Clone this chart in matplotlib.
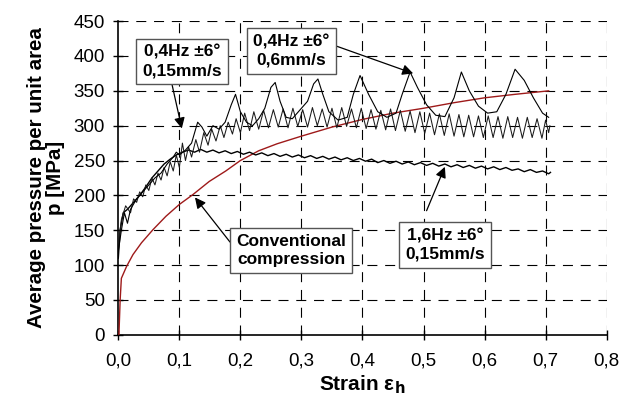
import matplotlib
matplotlib.use("Agg")
import matplotlib.pyplot as plt

plt.rcParams['font.family'] = ['Liberation Sans', 'DejaVu Sans']

# ---- data (strain, pressure MPa)

# 0,4Hz +-6deg 0,15mm/s
osc_slow_x = [0.0, 0.005, 0.012, 0.02, 0.025, 0.03, 0.035, 0.04, 0.045, 0.05, 0.055, 0.06, 0.065, 0.07,
              0.075, 0.08, 0.085, 0.09, 0.095, 0.1, 0.105, 0.11, 0.115, 0.12, 0.127, 0.133, 0.14, 0.147,
              0.153, 0.16, 0.167, 0.173, 0.18, 0.187, 0.193, 0.2, 0.207, 0.215, 0.222, 0.23, 0.238, 0.246,
              0.254, 0.262, 0.27, 0.278, 0.286, 0.294, 0.302, 0.31, 0.318, 0.326, 0.334, 0.342, 0.35,
              0.358, 0.366, 0.374, 0.382, 0.39, 0.398, 0.406, 0.414, 0.422, 0.43, 0.438, 0.446, 0.454,
              0.462, 0.47, 0.478, 0.486, 0.494, 0.502, 0.51, 0.518, 0.526, 0.534, 0.542, 0.55, 0.558,
              0.566, 0.574, 0.582, 0.59, 0.598, 0.606, 0.614, 0.622, 0.63, 0.638, 0.646, 0.654, 0.662,
              0.67, 0.678, 0.686, 0.694, 0.70, 0.705, 0.707]
osc_slow_p = [130, 165, 185, 175, 195, 190, 205, 198, 215, 207, 225, 215, 232, 222,
              240, 228, 248, 235, 258, 240, 275, 250, 270, 255, 280, 262, 290, 272,
              295, 278, 300, 283, 305, 288, 310, 290, 318, 293, 320, 295, 322, 297,
              323, 298, 324, 297, 325, 299, 323, 298, 326, 300, 324, 298, 325,
              297, 326, 299, 324, 297, 325, 296, 323, 295, 322, 294, 324, 293,
              322, 292, 321, 290, 320, 289, 318, 287, 317, 286, 317, 285, 316,
              284, 315, 284, 314, 283, 314, 283, 313, 282, 313, 283, 312, 282,
              312, 283, 310, 282, 308, 290, 300]

# 0,4Hz +-6deg 0,6mm/s
osc_fast_x = [0.0, 0.005, 0.01, 0.015, 0.02, 0.03, 0.04, 0.05, 0.06, 0.07, 0.08, 0.09, 0.095, 0.1,
              0.11, 0.12, 0.13, 0.137, 0.145, 0.155, 0.165, 0.175, 0.185, 0.192, 0.2, 0.21, 0.22,
              0.23, 0.24, 0.25, 0.257, 0.265, 0.275, 0.285, 0.295, 0.31, 0.32, 0.327, 0.335, 0.345,
              0.36, 0.375, 0.385, 0.396, 0.41, 0.425, 0.44, 0.455, 0.465, 0.478, 0.49, 0.505, 0.52,
              0.535, 0.55, 0.562, 0.575, 0.59, 0.605, 0.62, 0.635, 0.65, 0.665, 0.68, 0.695, 0.705]
osc_fast_p = [120, 150, 175, 160, 180, 195, 205, 215, 225, 232, 245, 255, 262, 258,
              265, 275, 305, 298, 285, 300, 295, 305, 330, 345, 320, 305, 300,
              310, 325, 355, 362, 335, 312, 310, 320, 335, 360, 367, 345, 320,
              308, 312, 345, 372, 345, 320, 312, 318, 345, 377, 355, 330, 315,
              313, 340, 377, 350, 328, 318, 320, 345, 381, 365, 340, 318, 312]

# 1,6Hz +-6deg 0,15mm/s
hf_x = [0.0, 0.003, 0.008, 0.015, 0.025, 0.035, 0.045, 0.055, 0.065, 0.075, 0.085, 0.095, 0.105,
        0.115, 0.125, 0.135, 0.145, 0.155, 0.165, 0.175, 0.185, 0.195, 0.205, 0.215, 0.225, 0.235,
        0.245, 0.255, 0.265, 0.275, 0.285, 0.295, 0.305, 0.315, 0.325, 0.335, 0.345, 0.355, 0.365,
        0.375, 0.385, 0.395, 0.405, 0.415, 0.425, 0.435, 0.445, 0.455, 0.465, 0.475, 0.485, 0.495,
        0.505, 0.515, 0.525, 0.535, 0.545, 0.555, 0.565, 0.575, 0.585, 0.595, 0.605, 0.615, 0.625,
        0.635, 0.645, 0.655, 0.665, 0.675, 0.685, 0.695, 0.705, 0.708]
hf_p = [110, 150, 175, 180, 190, 200, 212, 225, 235, 245, 252, 258, 262,
        265, 262, 266, 262, 265, 261, 264, 260, 263, 259, 262, 258, 261,
        257, 260, 256, 259, 255, 258, 254, 257, 253, 256, 252, 255, 251,
        254, 250, 253, 249, 252, 247, 250, 246, 249, 245, 248, 244, 247,
        243, 246, 242, 245, 241, 244, 240, 243, 239, 242, 238, 241, 237,
        240, 236, 238, 234, 237, 233, 235, 231, 233]

# conventional compression
conv_x = [0.001, 0.003, 0.005, 0.0135, 0.024, 0.038, 0.057, 0.078, 0.1, 0.122, 0.149, 0.176, 0.2,
          0.23, 0.26, 0.3, 0.35, 0.4, 0.45, 0.5, 0.55, 0.6, 0.65, 0.705]
conv_p = [0, 50, 81, 98, 115, 132, 151, 170, 187, 201, 220, 235, 250,
          264, 274, 285, 298, 309, 318, 325, 333, 340, 345, 350]

x_ticks = [0.0, 0.1, 0.2, 0.3, 0.4, 0.5, 0.6, 0.7, 0.8]
x_tick_labels = ['0,0', '0,1', '0,2', '0,3', '0,4', '0,5', '0,6', '0,7', '0,8']
y_ticks = [0, 50, 100, 150, 200, 250, 300, 350, 400, 450]

# callouts: text, box centre, arrow start, arrow tip
labels = ['0,4Hz ±6°\n0,15mm/s', '0,4Hz ±6°\n0,6mm/s', 'Conventional\ncompression', '1,6Hz ±6°\n0,15mm/s']
label_pos = [(0.104, 392), (0.284, 407), (0.283, 121), (0.535, 129)]
arrow_from = [(0.0875, 361), (0.345, 418), (0.183, 133), (0.505, 178)]
arrow_to = [(0.104, 296), (0.483, 375), (0.1256, 197), (0.535, 241)]

fig = plt.figure(figsize=(6.28, 3.99), dpi=100)
ax = fig.add_axes([0.1884, 0.161, 0.7776, 0.786])

# grid
for xv in x_ticks[1:]:
    ax.axvline(xv, color='black', lw=0.8, dashes=(9, 7), zorder=1)
for yv in y_ticks[1:]:
    ax.axhline(yv, color='black', lw=0.8, dashes=(9, 7), zorder=1)

# curves
ax.plot(conv_x, conv_p, color='#9e1a1a', lw=1.0, zorder=3)
ax.plot(hf_x, hf_p, color='black', lw=1.0, zorder=4)
ax.plot(osc_slow_x, osc_slow_p, color='#1a1a1a', lw=0.75, zorder=4)
ax.plot(osc_fast_x, osc_fast_p, color='black', lw=0.8, zorder=5)

ax.set_xlim(0, 0.8)
ax.set_ylim(0, 450)
ax.set_xticks(x_ticks)
ax.set_xticklabels(x_tick_labels)
ax.set_yticks(y_ticks)
ax.tick_params(direction='inout', length=7, width=1, labelsize=13.5)
ax.tick_params(axis='x', pad=9)
ax.tick_params(axis='y', pad=6)
for s in ['top', 'right']:
    ax.spines[s].set_visible(False)
for s in ['left', 'bottom']:
    ax.spines[s].set_linewidth(1.2)

ax.set_xlabel('Strain ε$_\\mathbf{h}$', fontsize=15, fontweight='bold', labelpad=3)
ax.set_ylabel('Average pressure per unit area\np [MPa]', fontsize=14.8, fontweight='bold',
              labelpad=6, linespacing=1.0)

# annotations
box = dict(boxstyle='square,pad=0.35', fc='white', ec='#555555', lw=1)
arrow = dict(arrowstyle='-|>', color='black', lw=0.9, mutation_scale=16, shrinkA=0, shrinkB=0)

for txt, pos, start, tip in zip(labels, label_pos, arrow_from, arrow_to):
    ax.annotate('', xy=tip, xytext=start, arrowprops=arrow, zorder=9)
    ax.text(pos[0], pos[1], txt, ha='center', va='center', fontsize=12.5,
            fontweight='bold', bbox=box, linespacing=1.3, zorder=10)

fig.savefig('out.png', dpi=100)
